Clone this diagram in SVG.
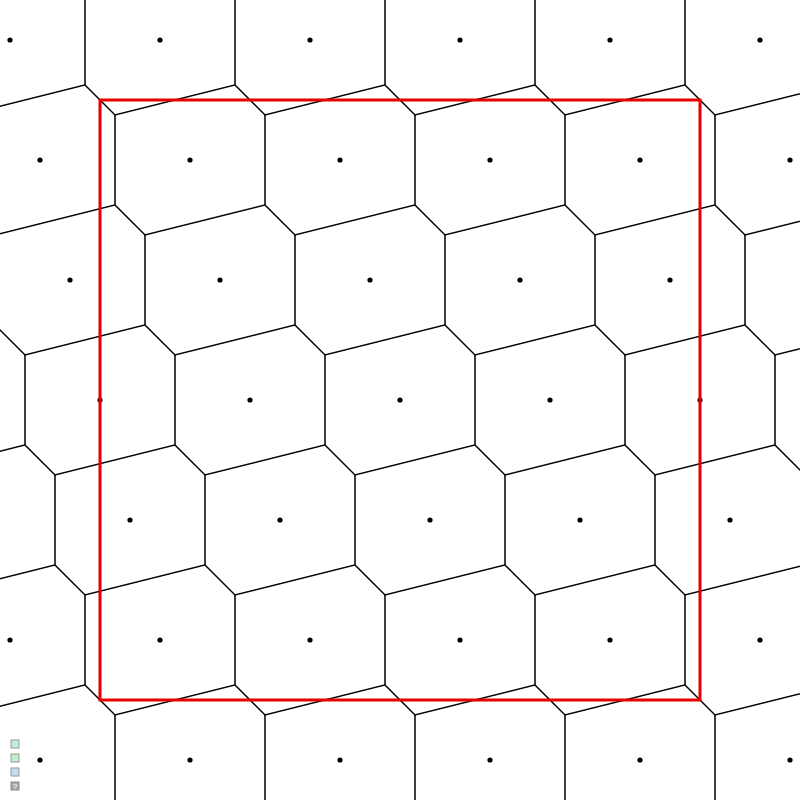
<svg xmlns="http://www.w3.org/2000/svg" xmlns:xlink="http://www.w3.org/1999/xlink" width="800" height="800" viewBox="0 0 800 800">
<style>
.edge{fill:none;stroke:#000;stroke-width:1.5;stroke-linejoin:miter}
.site{fill:#000}
.frame{fill:none;stroke:#e60000;stroke-width:3}
</style>
<defs>
<path id="e" class="edge" d="M75,-45 L75,45 L-45,75 L-75,45"/>
<circle id="d" class="site" r="2.6"/>
</defs>
<rect width="800" height="800" fill="#fff"/>
<g id="connectors">
<use href="#e" x="10" y="40"/><use href="#e" x="160" y="40"/><use href="#e" x="310" y="40"/><use href="#e" x="460" y="40"/><use href="#e" x="610" y="40"/><use href="#e" x="760" y="40"/>
<use href="#e" x="40" y="160"/><use href="#e" x="190" y="160"/><use href="#e" x="340" y="160"/><use href="#e" x="490" y="160"/><use href="#e" x="640" y="160"/><use href="#e" x="790" y="160"/>
<use href="#e" x="70" y="280"/><use href="#e" x="220" y="280"/><use href="#e" x="370" y="280"/><use href="#e" x="520" y="280"/><use href="#e" x="670" y="280"/><use href="#e" x="820" y="280"/>
<use href="#e" x="-50" y="400"/><use href="#e" x="100" y="400"/><use href="#e" x="250" y="400"/><use href="#e" x="400" y="400"/><use href="#e" x="550" y="400"/><use href="#e" x="700" y="400"/><use href="#e" x="850" y="400"/>
<use href="#e" x="-20" y="520"/><use href="#e" x="130" y="520"/><use href="#e" x="280" y="520"/><use href="#e" x="430" y="520"/><use href="#e" x="580" y="520"/><use href="#e" x="730" y="520"/>
<use href="#e" x="10" y="640"/><use href="#e" x="160" y="640"/><use href="#e" x="310" y="640"/><use href="#e" x="460" y="640"/><use href="#e" x="610" y="640"/><use href="#e" x="760" y="640"/>
<use href="#e" x="40" y="760"/><use href="#e" x="190" y="760"/><use href="#e" x="340" y="760"/><use href="#e" x="490" y="760"/><use href="#e" x="640" y="760"/><use href="#e" x="790" y="760"/>
</g>
<g id="sites">
<use href="#d" x="10" y="40"/><use href="#d" x="160" y="40"/><use href="#d" x="310" y="40"/><use href="#d" x="460" y="40"/><use href="#d" x="610" y="40"/><use href="#d" x="760" y="40"/>
<use href="#d" x="40" y="160"/><use href="#d" x="190" y="160"/><use href="#d" x="340" y="160"/><use href="#d" x="490" y="160"/><use href="#d" x="640" y="160"/><use href="#d" x="790" y="160"/>
<use href="#d" x="70" y="280"/><use href="#d" x="220" y="280"/><use href="#d" x="370" y="280"/><use href="#d" x="520" y="280"/><use href="#d" x="670" y="280"/>
<use href="#d" x="100" y="400"/><use href="#d" x="250" y="400"/><use href="#d" x="400" y="400"/><use href="#d" x="550" y="400"/><use href="#d" x="700" y="400"/>
<use href="#d" x="130" y="520"/><use href="#d" x="280" y="520"/><use href="#d" x="430" y="520"/><use href="#d" x="580" y="520"/><use href="#d" x="730" y="520"/>
<use href="#d" x="10" y="640"/><use href="#d" x="160" y="640"/><use href="#d" x="310" y="640"/><use href="#d" x="460" y="640"/><use href="#d" x="610" y="640"/><use href="#d" x="760" y="640"/>
<use href="#d" x="40" y="760"/><use href="#d" x="190" y="760"/><use href="#d" x="340" y="760"/><use href="#d" x="490" y="760"/><use href="#d" x="640" y="760"/><use href="#d" x="790" y="760"/>
</g>
<rect id="domain" class="frame" x="100" y="100" width="600" height="600"/>
<g id="icons">
<rect x="11" y="740" width="8" height="8" fill="#bdeee6" stroke="#9a9a9a" stroke-width="1"/>
<rect x="11" y="754" width="8" height="8" fill="#bfeecb" stroke="#9a9a9a" stroke-width="1"/>
<rect x="11" y="768" width="8" height="8" fill="#c2dcf2" stroke="#9a9a9a" stroke-width="1"/>
<rect x="11" y="782" width="8" height="8" fill="#a8a8a8" stroke="#8a8a8a" stroke-width="1"/>
<text x="15" y="789" font-family="Liberation Sans, sans-serif" font-size="8" fill="#fff" text-anchor="middle">?</text>
</g>
</svg>
